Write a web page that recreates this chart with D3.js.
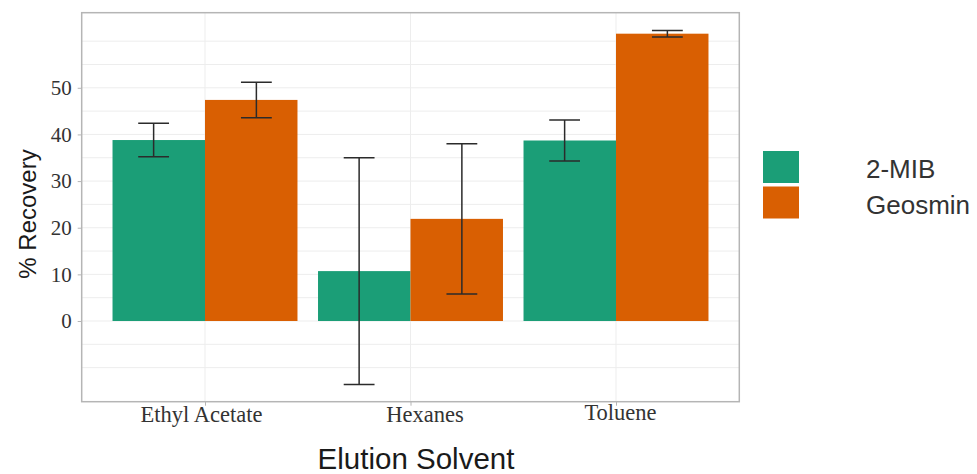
<!DOCTYPE html>
<html lang="en">
<head>
    <meta charset="UTF-8">
    <title>% Recovery by Elution Solvent</title>
    <script src="https://d3js.org/d3.v7.min.js"></script>
    <style>
        body{ margin: 0; background: #fff; }
        .grid line{ stroke: #ededed; stroke-width: 1px; }
        .tick-label{ font-family: "Liberation Serif", "DejaVu Serif", serif; fill: #333; }
        .err{ stroke: #2b2b2b; stroke-width: 1.5px; fill: none; }
    </style>
</head>
<body>
<svg width="977" height="474"></svg>
<script>
    // data
    let solvents = ['Ethyl Acetate', 'Hexanes', 'Toluene'];
    let groups = ['2-MIB', 'Geosmin'];
    let colors = ['#1b9e77', '#d95f02'];
    let mib = [38.8, 10.7, 38.7];
    let mibErr = [3.6, 24.3, 4.4];
    let geosmin = [47.4, 21.9, 61.6];
    let geosminErr = [3.8, 16.1, 0.7];
    let yTicks = [0, 10, 20, 30, 40, 50];
    let yGrid = d3.range(-10, 61, 5);

    let svg = d3.select('svg');
    let panel = {left: 81.7, right: 739.3, top: 12.7, bottom: 401.7};

    // scales (ggplot-style discrete expansion on x, 5% on y)
    let xScale = d3.scaleLinear().domain([0.4, 3.6]).range([panel.left, panel.right]);
    let yScale = d3.scaleLinear().domain([-17.3, 66.1]).range([panel.bottom, panel.top]);

    // grid
    let grid = svg.append('g').attr('class', 'grid');
    grid.selectAll('.h').data(yGrid).join('line')
        .attr('x1', panel.left).attr('x2', panel.right)
        .attr('y1', d => yScale(d)).attr('y2', d => yScale(d));
    grid.selectAll('.v').data(solvents).join('line')
        .attr('x1', (d, i) => xScale(i + 1)).attr('x2', (d, i) => xScale(i + 1))
        .attr('y1', panel.top).attr('y2', panel.bottom);

    // rows for bars and error bars
    let rows = [];
    solvents.forEach(function(s, i){
        rows.push({cat: i + 1, g: 0, v: mib[i], e: mibErr[i]});
        rows.push({cat: i + 1, g: 1, v: geosmin[i], e: geosminErr[i]});
    });

    let barW = 0.45;
    svg.append('g').selectAll('rect').data(rows).join('rect')
        .attr('x', d => xScale(d.cat - barW + d.g * barW))
        .attr('width', d => xScale(d.cat + barW) - xScale(d.cat))
        .attr('y', d => yScale(Math.max(0, d.v)))
        .attr('height', d => Math.abs(yScale(0) - yScale(d.v)))
        .attr('fill', d => colors[d.g]);

    // error bars
    let errG = svg.append('g');
    rows.forEach(function(d){
        let cx = d.cat + (d.g === 0 ? -0.25 : 0.25);
        let lo = yScale(d.v - d.e), hi = yScale(d.v + d.e);
        errG.append('path').attr('class', 'err')
            .attr('d', 'M' + xScale(cx - 0.075) + ',' + hi + 'H' + xScale(cx + 0.075) +
                'M' + xScale(cx) + ',' + hi + 'V' + lo +
                'M' + xScale(cx - 0.075) + ',' + lo + 'H' + xScale(cx + 0.075));
    });

    // panel border
    svg.append('rect')
        .attr('x', panel.left).attr('y', panel.top)
        .attr('width', panel.right - panel.left).attr('height', panel.bottom - panel.top)
        .attr('fill', 'none').attr('stroke', '#b5b5b5').attr('stroke-width', 1.5);

    // axes
    let yAxis = svg.append('g').attr('transform', 'translate(' + panel.left + ',0)')
        .call(d3.axisLeft(yScale).tickValues(yTicks).tickSize(4).tickPadding(6));
    yAxis.select('.domain').remove();
    yAxis.selectAll('line').attr('stroke', '#b5b5b5');
    yAxis.selectAll('text').attr('class', 'tick-label').attr('font-size', 21).attr('fill', null);

    // the source image nudges the middle/right labels a little
    let labelShift = [-4, 14, 4];
    let xAxis = svg.append('g').attr('transform', 'translate(0,' + panel.bottom + ')')
        .call(d3.axisBottom(xScale).tickValues([1, 2, 3])
            .tickFormat(d => solvents[d - 1]).tickSize(4).tickPadding(4));
    xAxis.select('.domain').remove();
    xAxis.selectAll('line').attr('stroke', '#b5b5b5');
    xAxis.selectAll('text').attr('class', 'tick-label').attr('font-size', 22.5).attr('fill', null)
        .attr('dx', (d, i) => labelShift[i]).attr('dy', (d, i) => i === 2 ? '0.45em' : '0.55em');

    // axis titles
    svg.append('text').attr('x', 416).attr('y', 469)
        .attr('text-anchor', 'middle')
        .attr('font-family', '"Liberation Sans", Arial, sans-serif').attr('font-size', 29.5)
        .attr('fill', '#1a1a1a').text('Elution Solvent');
    svg.append('text')
        .attr('transform', 'translate(36,' + 214 + ') rotate(-90)')
        .attr('text-anchor', 'middle')
        .attr('font-family', '"Liberation Sans", Arial, sans-serif').attr('font-size', 24)
        .attr('fill', '#1a1a1a').text('% Recovery');

    // legend
    let legend = svg.append('g').attr('transform', 'translate(763,151)');
    groups.forEach(function(g, i){
        legend.append('rect').attr('x', 0).attr('y', i * 35.5)
            .attr('width', 36).attr('height', 32).attr('fill', colors[i]);
        legend.append('text').attr('x', 103).attr('y', i * 35.5 + 27)
            .attr('font-family', '"Liberation Sans", Arial, sans-serif').attr('font-size', 26)
            .attr('fill', '#333').text(g);
    });
</script>
</body>
</html>
